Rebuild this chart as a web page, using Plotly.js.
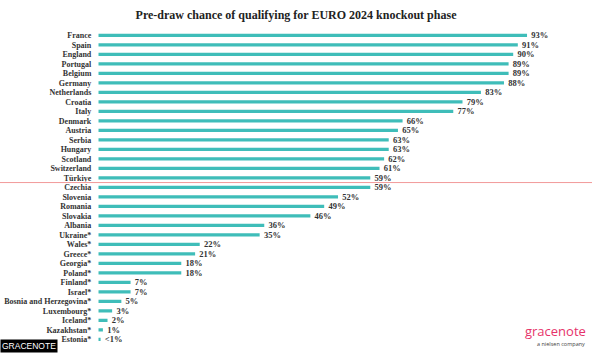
<!DOCTYPE html>
<html>
<head>
<meta charset="utf-8">
<script src="https://cdn.plot.ly/plotly-3.0.1.min.js"></script>
<style>html,body{margin:0;padding:0;background:#fff;}#chart{width:592px;height:353px;}</style>
</head>
<body>
<div id="chart"></div>
<script>
const countries = ["France","Spain","England","Portugal","Belgium","Germany","Netherlands","Croatia","Italy","Denmark","Austria","Serbia","Hungary","Scotland","Switzerland","Türkiye","Czechia","Slovenia","Romania","Slovakia","Albania","Ukraine*","Wales*","Greece*","Georgia*","Poland*","Finland*","Israel*","Bosnia and Herzegovina*","Luxembourg*","Iceland*","Kazakhstan*","Estonia*"];
const chances = [93,91,90,89,89,88,83,79,77,66,65,63,63,62,61,59,59,52,49,46,36,35,22,21,18,18,7,7,5,3,2,1,0.5];
const valueLabels = ["93%","91%","90%","89%","89%","88%","83%","79%","77%","66%","65%","63%","63%","62%","61%","59%","59%","52%","49%","46%","36%","35%","22%","21%","18%","18%","7%","7%","5%","3%","2%","1%","<1%"];
const cutoffBetween = ["Türkiye","Czechia"];

const W = 592, H = 353;
const serif = "Liberation Serif, DejaVu Serif, serif";
const data = [{
  type: "bar",
  orientation: "h",
  x: chances,
  y: countries,
  text: valueLabels,
  texttemplate: "\u00a0\u00a0%{text}",
  textposition: "outside",
  constraintext: "none",
  cliponaxis: false,
  textfont: {family: serif, size: 8.5, color: "#333333", weight: "bold"},
  marker: {color: "#3fbdb9"},
  width: 0.34,
  hoverinfo: "skip"
}];
const cutIdx = countries.indexOf(cutoffBetween[0]) + 0.5;
const layout = {
  width: W, height: H,
  margin: {l: 0, r: 0, t: 0, b: 0},
  paper_bgcolor: "#ffffff", plot_bgcolor: "#ffffff",
  showlegend: false,
  title: {text: "<b>Pre-draw chance of qualifying for EURO 2024 knockout phase</b>",
          font: {family: serif, size: 12, color: "#222222"},
          x: 0.5, xanchor: "center", y: 1 - 15/H, yanchor: "middle", yref: "paper"},
  xaxis: {domain: [98.3/W, 559.3/W], range: [0, 100], visible: false, fixedrange: true},
  yaxis: {domain: [1 - 344.05/H, 1 - 30.55/H], type: "category", range: [countries.length - 0.5, -0.5],
          tickmode: "array", tickvals: countries, ticktext: countries,
          showgrid: false, zeroline: false, showline: false, ticks: "", ticklabelstandoff: 6,
          tickfont: {family: serif, size: 8, color: "#333333", weight: "bold"}, fixedrange: true},
  shapes: [{type: "line", xref: "paper", x0: 0, x1: 1, yref: "y", y0: cutIdx, y1: cutIdx,
            line: {color: "#f29a9a", width: 1}}],
  annotations: [
    {text: "GRACENOTE", xref: "paper", yref: "paper", x: 0, y: 0, xanchor: "left", yanchor: "bottom",
     showarrow: false, bgcolor: "#000000", borderpad: 1,
     font: {family: "Liberation Sans, Arial, sans-serif", size: 8.5, color: "#ffffff"}},
    {text: "gracenote", xref: "paper", yref: "paper", x: 588/W, y: 1 - 331/H, xanchor: "right", yanchor: "middle",
     showarrow: false, font: {family: "Open Sans, sans-serif", size: 13, color: "#e6336a"}},
    {text: "a nielsen company", xref: "paper", yref: "paper", x: 587/W, y: 1 - 344/H, xanchor: "right", yanchor: "middle",
     showarrow: false, font: {family: "Open Sans, sans-serif", size: 5.5, color: "#444444"}}
  ]
};
Plotly.newPlot("chart", data, layout, {displayModeBar: false, staticPlot: true});
</script>
</body>
</html>
